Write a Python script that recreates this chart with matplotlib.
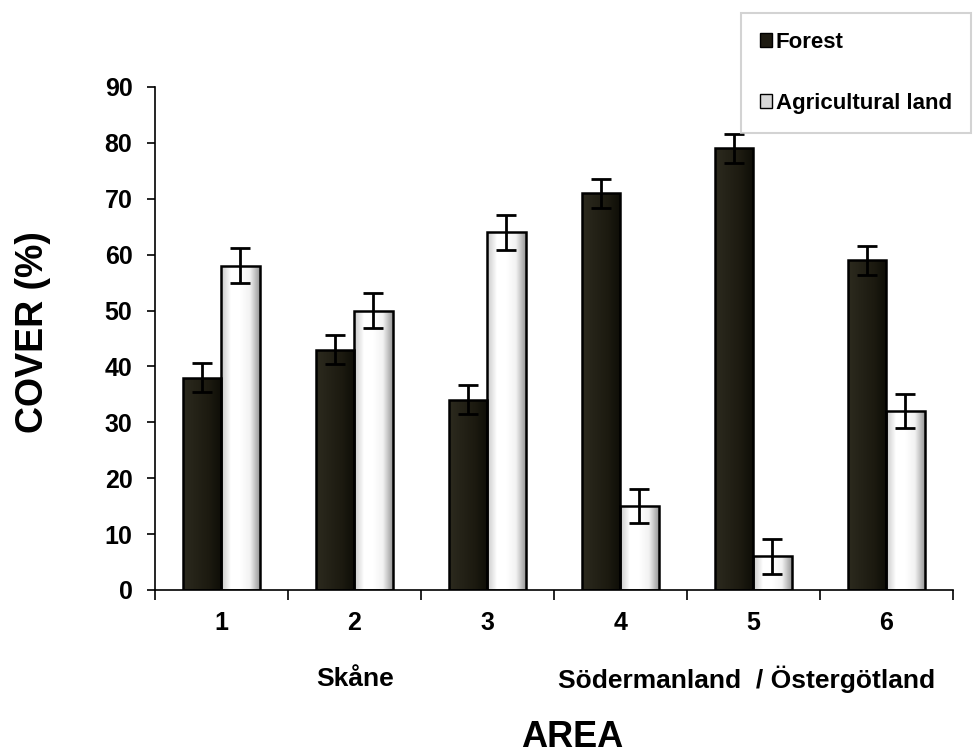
import numpy as np
import matplotlib
matplotlib.use("Agg")
import matplotlib.pyplot as plt
from matplotlib.patches import Patch
from matplotlib.colors import LinearSegmentedColormap

plt.rcParams['font.family'] = ['Liberation Sans', 'DejaVu Sans']
plt.rcParams['font.weight'] = 'bold'

areas = ["1", "2", "3", "4", "5", "6"]
forest = [38, 43, 34, 71, 79, 59]
forest_err = [2.6, 2.6, 2.6, 2.6, 2.6, 2.6]
agri = [58, 50, 64, 15, 6, 32]
agri_err = [3.1, 3.1, 3.1, 3.1, 3.1, 3.1]

fig = plt.figure(figsize=(9.79, 7.53), dpi=100)
ax = fig.add_axes([0.158, 0.2165, 0.815, 0.668])

x = np.arange(len(areas))
w = 0.29
ekw = dict(elinewidth=2, capthick=2, ecolor='black', zorder=5)
b1 = ax.bar(x - w / 2, forest, w, color='#1e1b12', edgecolor='black', linewidth=1.8,
            yerr=forest_err, capsize=7, error_kw=ekw)
b2 = ax.bar(x + w / 2, agri, w, color='#f4f4f4', edgecolor='black', linewidth=1.8,
            yerr=agri_err, capsize=7, error_kw=ekw)

# bevelled look: horizontal gradient clipped to each bar
cm_dark = LinearSegmentedColormap.from_list('dk', ['#2c2a1e', '#242217', '#1c1a10', '#0e0d07'])
cm_light = LinearSegmentedColormap.from_list('lt', ['#c8c8c8', '#ffffff', '#ffffff', '#f2f2f2', '#9a9a9a'])
grad = np.linspace(0, 1, 64).reshape(1, -1)
for bars, cm in [(b1, cm_dark), (b2, cm_light)]:
    for p in bars:
        x0, y0 = p.get_x(), p.get_y()
        im = ax.imshow(grad, cmap=cm, aspect='auto', zorder=p.get_zorder() + 0.1,
                       extent=[x0, x0 + p.get_width(), y0, y0 + p.get_height()])
        im.set_clip_path(p)
        p.set_zorder(p.get_zorder() + 0.2)
        p.set_facecolor('none')

ax.set_xlim(-0.5, len(areas) - 0.5)
ax.set_ylim(0, 90)
ax.set_yticks(range(0, 91, 10))
ax.set_xticks(x)
ax.set_xticklabels(areas)
ax.set_xticks(np.arange(-0.5, len(areas), 1), minor=True)
ax.tick_params(axis='x', which='major', length=0, pad=15, labelsize=18)
ax.tick_params(axis='x', which='minor', length=7, width=1.2, direction='out')
ax.tick_params(axis='y', length=6, width=1.2, direction='out', pad=10, labelsize=18)
for s in ['top', 'right']:
    ax.spines[s].set_visible(False)
for s in ['left', 'bottom']:
    ax.spines[s].set_linewidth(1.2)

fig.text(0.034, 0.559, "COVER (%)", rotation=90, ha='center', va='center',
         fontsize=27, fontweight='bold')
fig.text(0.3626, 0.098, "Skåne", ha='center', va='center', fontsize=19, fontweight='bold')
fig.text(0.763, 0.098, "Södermanland  / Östergötland", ha='center', va='center',
         fontsize=19, fontweight='bold')
fig.text(0.585, 0.0212, "AREA", ha='center', va='center', fontsize=26, fontweight='bold')

handles = [Patch(facecolor='#1e1b12', edgecolor='black'),
           Patch(facecolor='#d8d8d8', edgecolor='black')]
leg = fig.legend(handles, ["Forest", "Agricultural land"], loc='upper left',
                 bbox_to_anchor=(0.757, 0.983), frameon=True, fontsize=16,
                 handlelength=0.55, handleheight=0.55, handletextpad=0.15,
                 labelspacing=1.8, borderpad=0.85, borderaxespad=0, fancybox=False)
leg.get_frame().set_edgecolor('#c8c8c8')
leg.get_frame().set_linewidth(1.5)

fig.savefig("out.png", dpi=100)
